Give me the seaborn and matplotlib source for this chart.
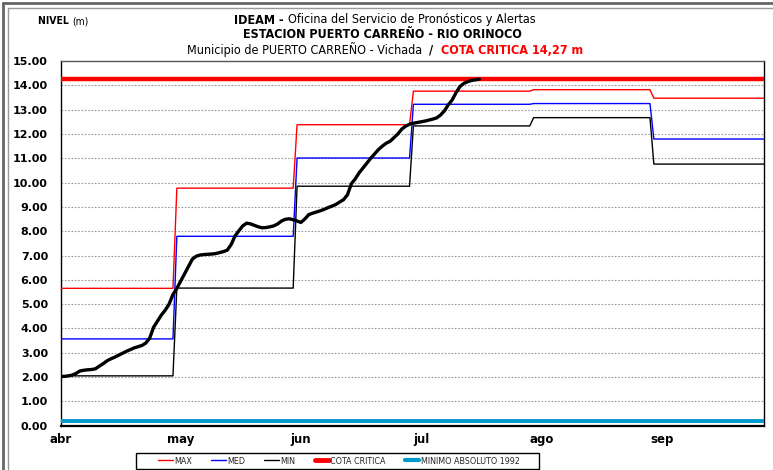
import numpy as np
import pandas as pd
import matplotlib
matplotlib.use('Agg')
import matplotlib.pyplot as plt
import seaborn as sns
from matplotlib.lines import Line2D
from matplotlib.patches import Rectangle
from matplotlib.transforms import IdentityTransform

# ---------------- data ----------------
month_labels = ['abr', 'may', 'jun', 'jul', 'ago', 'sep']
month_days = [30, 31, 30, 31, 31, 30]
tick_days = [0, 31, 62, 93, 124, 155]

max_vals = [5.65, 9.77, 12.38, 13.76, 13.82, 13.47]
med_vals = [3.57, 7.79, 11.01, 13.22, 13.25, 11.79]
min_vals = [2.05, 5.66, 9.85, 12.33, 12.67, 10.76]
cota_critica = 14.27
minimo_absoluto = 0.20

# observed daily level from 1 April
nivel_obs = [
    2.02, 2.03, 2.05, 2.08, 2.15, 2.25, 2.28, 2.30, 2.31, 2.34,
    2.45, 2.55, 2.67, 2.75, 2.82, 2.90, 2.98, 3.06, 3.13, 3.20,
    3.25, 3.30, 3.40, 3.60, 4.05, 4.30, 4.55, 4.75, 5.00, 5.40,
    5.65, 5.95, 6.25, 6.55, 6.85, 6.97, 7.02, 7.04, 7.05, 7.06,
    7.08, 7.12, 7.16, 7.22, 7.45, 7.80, 8.02, 8.22, 8.33, 8.30,
    8.24, 8.18, 8.14, 8.15, 8.18, 8.22, 8.30, 8.42, 8.49, 8.51,
    8.47, 8.42, 8.36, 8.50, 8.68, 8.74, 8.79, 8.84, 8.90, 8.97,
    9.03, 9.10, 9.20, 9.30, 9.50, 9.95, 10.15, 10.40, 10.60, 10.80,
    11.00, 11.18, 11.36, 11.50, 11.62, 11.70, 11.85, 12.00, 12.20, 12.32,
    12.40, 12.44, 12.47, 12.50, 12.53, 12.57, 12.61, 12.66, 12.78, 12.95,
    13.20, 13.40, 13.70, 13.95, 14.08, 14.15, 14.20, 14.23, 14.25,
]

# ---------------- style ----------------
sns.set_theme(style='white')
plt.rcParams['font.family'] = ['DejaVu Sans']
NARROW = ['DejaVu Sans']
STRETCH = 'condensed'

days = np.arange(sum(month_days))
df = pd.DataFrame({
    'dia': days,
    'MAX': np.repeat(max_vals, month_days),
    'MED': np.repeat(med_vals, month_days),
    'MIN': np.repeat(min_vals, month_days),
})
df_obs = pd.DataFrame({'dia': np.arange(len(nivel_obs)), 'nivel': nivel_obs})

W, H = 773, 470
fig = plt.figure(figsize=(W / 100, H / 100), dpi=100)
fig.patch.set_facecolor('white')
L, R, T, B = 60.5, 764, 61, 425.7
ax = fig.add_axes([L / W, 1 - B / H, (R - L) / W, (B - T) / H])
ax.set_facecolor('white')

# grid
for yv in range(1, 15):
    ax.axhline(yv, color='#9a9a9a', lw=0.8, ls=(0, (1.5, 1.5)), zorder=0)

sns.lineplot(data=df, x='dia', y='MAX', color='#FF0000', lw=1.0, ax=ax, zorder=3)
sns.lineplot(data=df, x='dia', y='MED', color='#0000FF', lw=1.0, ax=ax, zorder=3)
sns.lineplot(data=df, x='dia', y='MIN', color='#000000', lw=1.0, ax=ax, zorder=3)
ax.axhline(cota_critica, color='#FF0000', lw=3.2, zorder=4)
ax.axhline(minimo_absoluto, color='#0099CC', lw=2.8, zorder=4)
sns.lineplot(data=df_obs, x='dia', y='nivel', color='black', lw=2.4, ax=ax,
             zorder=5, solid_joinstyle='round', solid_capstyle='round')

ax.set_xlim(0, 181.4)
ax.set_ylim(0, 15)
ax.set_yticks(np.arange(0, 16, 1))
ax.set_yticklabels([f'{v:.2f}' for v in np.arange(0, 16, 1)],
                   fontsize=8, fontweight='bold')
ax.set_xticks(tick_days)
ax.set_xticklabels(month_labels, fontsize=8.5, fontweight='bold')
ax.tick_params(axis='y', direction='out', length=4, width=1, pad=5, colors='black')
ax.tick_params(axis='x', direction='out', length=3, width=1, pad=2, colors='black')
ax.set_xlabel('')
ax.set_ylabel('')
for s in ax.spines.values():
    s.set_visible(True)
    s.set_color('black')
    s.set_linewidth(1.0)
ax.spines['bottom'].set_linewidth(1.6)
ax.spines['top'].set_color('#555555')

# legend (frame drawn separately)
handles = [
    Line2D([], [], color='#FF0000', lw=1.0),
    Line2D([], [], color='#0000FF', lw=1.0),
    Line2D([], [], color='#000000', lw=1.0),
    Line2D([], [], color='#FF0000', lw=3.5),
    Line2D([], [], color='#0099CC', lw=3.0),
]
labels = ['MAX', 'MED', 'MIN', 'COTA CRITICA', 'MINIMO ABSOLUTO 1992']
leg = fig.legend(handles, labels, loc='center',
                 bbox_to_anchor=(339 / W, 1 - 461 / H), ncol=5,
                 frameon=False,
                 prop={'family': NARROW, 'size': 6.4, 'stretch': STRETCH},
                 handlelength=1.6, handletextpad=0.15, columnspacing=2.2,
                 borderpad=0.2)
fig.add_artist(Rectangle((136, H - 469), 403, 15.7, fill=False,
                         edgecolor='black', lw=1.0,
                         transform=IdentityTransform()))

# outer chart border
for xx, col, lw in [(2.5, '#666666', 2.0), (8, '#999999', 1.0)]:
    fig.add_artist(Line2D([xx, xx], [0, H - xx], color=col, lw=lw,
                          transform=IdentityTransform()))
    fig.add_artist(Line2D([xx, W], [H - xx, H - xx], color=col, lw=lw,
                          transform=IdentityTransform()))

# titles with mixed styles
renderer = fig.canvas.get_renderer()


def line_of_text(segments, y_top, cx=None, x_left=None):
    ts = []
    for s, kw in segments:
        t = fig.text(0, H - y_top, s, transform=IdentityTransform(),
                     va='center', ha='left', **kw)
        ts.append(t)
    widths = [t.get_window_extent(renderer).width for t in ts]
    total = sum(widths)
    x = cx - total / 2 if cx is not None else x_left
    for t, w in zip(ts, widths):
        t.set_x(x)
        x += w


base = {'family': NARROW, 'fontsize': 9, 'color': 'black', 'fontstretch': STRETCH}
line_of_text([('IDEAM - ', dict(base, fontweight='bold')),
              ('Oficina del Servicio de Pronósticos y Alertas', base)], 20, cx=385)
line_of_text([('ESTACION PUERTO CARREÑO - RIO ORINOCO', dict(base, fontweight='bold'))],
             35, cx=382)
line_of_text([('Municipio de PUERTO CARREÑO - Vichada  ', base),
              ('/  ', dict(base, fontweight='bold')),
              ('COTA CRITICA 14,27 m', dict(base, fontweight='bold', color='#FF0000'))],
             50, cx=385)
line_of_text([('NIVEL ', dict(base, fontsize=7.5, fontweight='bold')),
              ('(m)', dict(base, fontsize=7.5))], 21, x_left=38)

fig.savefig('out.png', dpi=100, facecolor='white')
